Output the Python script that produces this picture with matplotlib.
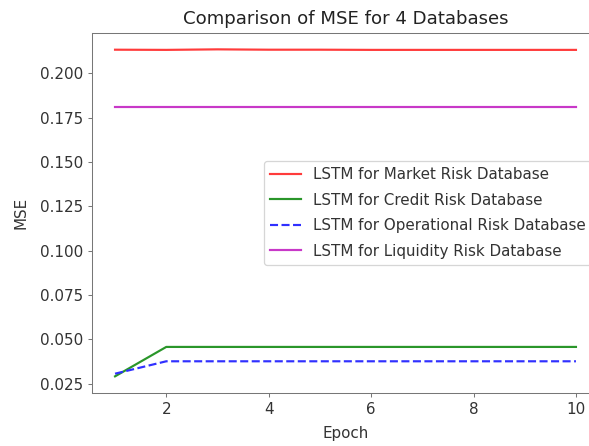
import numpy as np
import matplotlib
matplotlib.use("Agg")
import matplotlib.pyplot as plt

# MSE par epoch pour chaque base
epochs = np.arange(1, 11)
mse_market = [0.2134, 0.2133, 0.2136, 0.2134, 0.2134, 0.2133, 0.2133, 0.2133, 0.2133, 0.2133]
mse_credit = [0.0291, 0.0457, 0.0457, 0.0457, 0.0457, 0.0457, 0.0457, 0.0457, 0.0457, 0.0457]
mse_operational = [0.0306, 0.0376, 0.0376, 0.0376, 0.0376, 0.0376, 0.0376, 0.0376, 0.0376, 0.0376]
mse_liquidity = [0.1812, 0.1812, 0.1812, 0.1812, 0.1812, 0.1812, 0.1812, 0.1812, 0.1812, 0.1812]

plt.rcParams["font.size"] = 11.8
plt.rcParams["axes.edgecolor"] = "#777777"
plt.rcParams["xtick.color"] = "#777777"
plt.rcParams["ytick.color"] = "#777777"
plt.rcParams["xtick.labelcolor"] = "#333333"
plt.rcParams["ytick.labelcolor"] = "#333333"

dpi = 92
fig = plt.figure(figsize=(589 / dpi, 446 / dpi), dpi=dpi)
ax = fig.add_axes([92 / 589, 53.3 / 446, 507 / 589, 359.7 / 446])

lw = 1.7
ax.plot(epochs, mse_market, color="#ff3b3b", lw=lw, label="LSTM for Market Risk Database")
ax.plot(epochs, mse_credit, color="#2a962a", lw=lw, label="LSTM for Credit Risk Database")
ax.plot(epochs, mse_operational, color="#3030ff", lw=lw, linestyle="--", label="LSTM for Operational Risk Database")
ax.plot(epochs, mse_liquidity, color="#c838c8", lw=lw, label="LSTM for Liquidity Risk Database")

ax.set_title("Comparison of MSE for 4 Databases", fontsize=14.2, color="#222222", pad=7)
ax.set_xlabel("Epoch", color="#333333", labelpad=7)
ax.set_ylabel("MSE", color="#333333", labelpad=8.5)
ax.legend(loc="center right", fontsize=11.8, labelcolor="#333333", labelspacing=0.7)

fig.savefig("out.png", dpi=dpi)
